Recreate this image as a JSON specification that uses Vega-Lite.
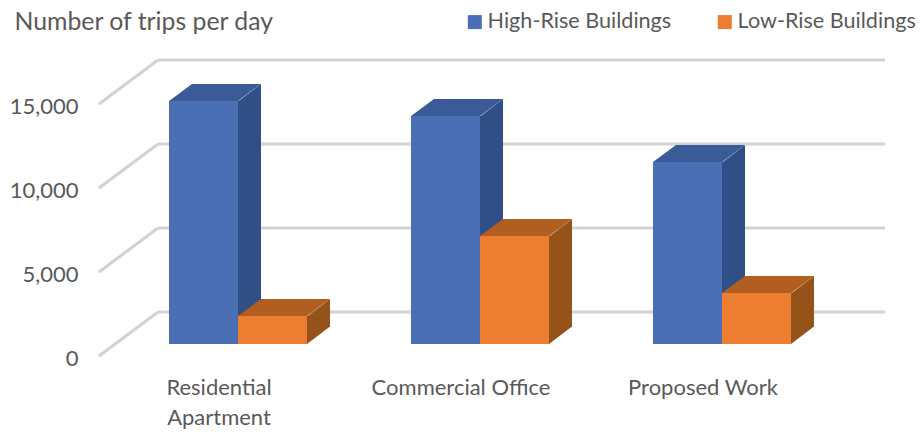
{
  "$schema": "https://vega.github.io/schema/vega-lite/v6.json",
  "width": 924,
  "height": 432,
  "padding": 0,
  "autosize": {"type": "none"},
  "background": "white",
  "config": {"view": {"stroke": null}, "font": "Lato"},
  "datasets": {
    "trips": [
      {"use": "Residential Apartment", "building": "High-Rise Buildings", "trips": 14470},
      {"use": "Residential Apartment", "building": "Low-Rise Buildings", "trips": 1670},
      {"use": "Commercial Office", "building": "High-Rise Buildings", "trips": 13570},
      {"use": "Commercial Office", "building": "Low-Rise Buildings", "trips": 6430},
      {"use": "Proposed Work", "building": "High-Rise Buildings", "trips": 10830},
      {"use": "Proposed Work", "building": "Low-Rise Buildings", "trips": 3040}
    ],
    "levels": [{"level": 0}, {"level": 5000}, {"level": 10000}, {"level": 15000}]
  },
  "resolve": {"scale": {"x": "independent"}},
  "layer": [
    {
      "description": "Back wall gridlines",
      "data": {"name": "levels"},
      "mark": {"type": "rule", "color": "#D2D2D2", "strokeWidth": 3, "yOffset": -32, "y2Offset": -32},
      "encoding": {
        "x": {"datum": 0, "type": "quantitative", "scale": {"domain": [0, 1], "range": [158, 885]}, "axis": null},
        "x2": {"datum": 1},
        "y": {
          "field": "level",
          "type": "quantitative",
          "scale": {"domain": [0, 15000], "range": [344, 92], "nice": false},
          "axis": {
            "values": [0, 5000, 10000, 15000],
            "format": ",.0f",
            "orient": "left",
            "offset": -78,
            "domain": false,
            "ticks": false,
            "grid": false,
            "labelPadding": 0,
            "labelOffset": 14,
            "labelFontSize": 22,
            "labelColor": "#595959",
            "title": "Number of trips per day",
            "titleAngle": 0,
            "titleAlign": "left",
            "titleBaseline": "alphabetic",
            "titleX": -64,
            "titleY": 29,
            "titleFontSize": 24.8,
            "titleFontWeight": "normal",
            "titleColor": "#595959"
          }
        }
      }
    },
    {
      "description": "Side wall lines running from the front edge to the back wall",
      "data": {"name": "levels"},
      "mark": {"type": "rule", "color": "#D2D2D2", "strokeWidth": 3, "yOffset": 12, "y2Offset": -32},
      "encoding": {
        "x": {"datum": 0, "type": "quantitative", "scale": {"domain": [0, 1], "range": [99, 158]}, "axis": null},
        "x2": {"datum": 1},
        "y": {"field": "level", "type": "quantitative"},
        "y2": {"field": "level"}
      }
    },
    {
      "description": "Extruded bars: side faces, top faces, then front faces",
      "data": {"name": "trips"},
      "encoding": {
        "x": {
          "field": "use",
          "type": "nominal",
          "sort": ["Residential Apartment", "Commercial Office", "Proposed Work"],
          "scale": {"range": [117, 843], "paddingInner": 0, "paddingOuter": 0},
          "axis": {
            "orient": "bottom",
            "offset": -55,
            "title": null,
            "domain": false,
            "ticks": false,
            "grid": false,
            "labelAngle": 0,
            "labelPadding": 0,
            "labelOffset": -19,
            "labelFontSize": 22,
            "labelColor": "#595959",
            "labelLineHeight": 30,
            "labelExpr": "datum.value == 'Residential Apartment' ? ['Residential', 'Apartment'] : datum.value"
          }
        },
        "xOffset": {
          "field": "building",
          "type": "nominal",
          "scale": {"domain": ["High-Rise Buildings", "Low-Rise Buildings"], "range": [52, 190], "paddingInner": 0, "paddingOuter": 0}
        }
      },
      "resolve": {"scale": {"color": "independent", "xOffset": "independent"}},
      "layer": [
        {
          "mark": {"type": "bar", "width": 23, "y2Offset": -17},
          "encoding": {
            "xOffset": {
              "field": "building",
              "type": "nominal",
              "scale": {"domain": ["High-Rise Buildings", "Low-Rise Buildings"], "range": [98, 236], "paddingInner": 0, "paddingOuter": 0}
            },
            "y": {"field": "trips", "type": "quantitative", "stack": null},
            "y2": {"datum": 0},
            "color": {
              "field": "building",
              "type": "nominal",
              "scale": {"domain": ["High-Rise Buildings", "Low-Rise Buildings"], "range": ["#304F87", "#95531A"]},
              "legend": null
            }
          }
        },
        {
          "mark": {"type": "point", "filled": true, "opacity": 1, "size": 4, "strokeWidth": 0, "shape": "M34.5 0.5L57.5 -17L57.5 0.5Z"},
          "encoding": {
            "xOffset": {
              "field": "building",
              "type": "nominal",
              "scale": {"type": "point", "domain": ["High-Rise Buildings", "Low-Rise Buildings"], "range": [86.5, 155.5], "padding": 0}
            },
            "y": {"field": "trips", "type": "quantitative"},
            "color": {
              "field": "building",
              "type": "nominal",
              "scale": {"domain": ["High-Rise Buildings", "Low-Rise Buildings"], "range": ["#304F87", "#95531A"]},
              "legend": null
            }
          }
        },
        {
          "mark": {"type": "point", "filled": true, "opacity": 1, "size": 4, "strokeWidth": 0, "shape": "M34.5 0L34.5 -17.5L57.5 -17.5Z"},
          "encoding": {
            "xOffset": {
              "field": "building",
              "type": "nominal",
              "scale": {"type": "point", "domain": ["High-Rise Buildings", "Low-Rise Buildings"], "range": [86.5, 155.5], "padding": 0}
            },
            "y": {"datum": 0, "type": "quantitative"},
            "color": {
              "field": "building",
              "type": "nominal",
              "scale": {"domain": ["High-Rise Buildings", "Low-Rise Buildings"], "range": ["#304F87", "#95531A"]},
              "legend": null
            }
          }
        },
        {
          "mark": {"type": "point", "filled": true, "opacity": 1, "size": 4, "strokeWidth": 0, "shape": "M-34.5 0L-11.5 -17L57.5 -17L34.5 0Z"},
          "encoding": {
            "xOffset": {
              "field": "building",
              "type": "nominal",
              "scale": {"type": "point", "domain": ["High-Rise Buildings", "Low-Rise Buildings"], "range": [86.5, 155.5], "padding": 0}
            },
            "y": {"field": "trips", "type": "quantitative"},
            "color": {
              "field": "building",
              "type": "nominal",
              "scale": {"domain": ["High-Rise Buildings", "Low-Rise Buildings"], "range": ["#3A5A98", "#B25E20"]},
              "legend": null
            }
          }
        },
        {
          "mark": {"type": "bar"},
          "encoding": {
            "y": {"field": "trips", "type": "quantitative", "stack": null},
            "y2": {"datum": 0},
            "color": {
              "field": "building",
              "type": "nominal",
              "scale": {"domain": ["High-Rise Buildings", "Low-Rise Buildings"], "range": ["#4A6FB5", "#ED7D31"]},
              "legend": {
                "orient": "none",
                "legendX": 464,
                "legendY": 11,
                "direction": "horizontal",
                "title": null,
                "symbolType": "square",
                "symbolSize": 196,
                "symbolStrokeWidth": 0,
                "labelFontSize": 21.6,
                "labelOffset": 2,
                "labelColor": "#595959",
                "labelLimit": 300,
                "columnPadding": 42
              }
            }
          }
        }
      ]
    }
  ]
}
